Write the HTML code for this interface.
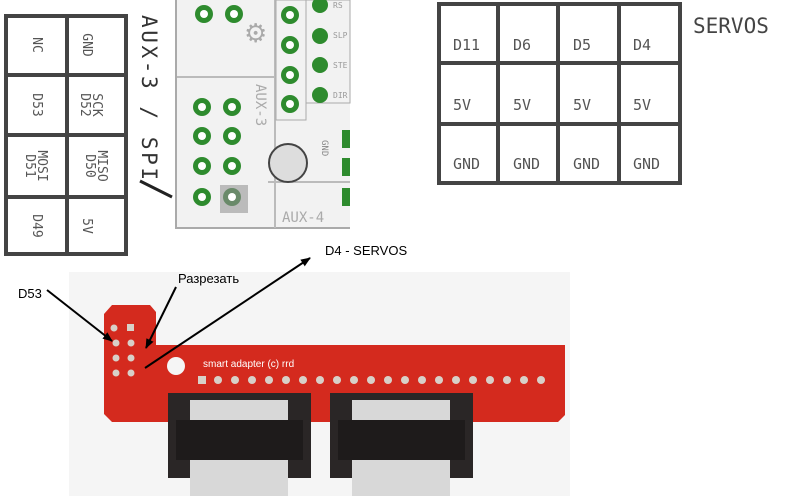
<!DOCTYPE html>
<html><head><meta charset="utf-8"><style>
body{margin:0;background:#fff;width:797px;height:496px;overflow:hidden;font-family:"Liberation Sans","DejaVu Sans",sans-serif}
svg{display:block}
</style></head><body>
<svg width="797" height="496" viewBox="0 0 797 496" xmlns="http://www.w3.org/2000/svg">
<defs>
<marker id="ah" markerWidth="10" markerHeight="8" refX="9" refY="4" orient="auto" markerUnits="userSpaceOnUse"><path d="M0,0 L10,4 L0,8 z" fill="#000"/></marker>
</defs>
<!-- left table -->
<g stroke="#444" stroke-width="4" fill="none">
<rect x="6" y="16" width="120" height="238"/>
<line x1="67" y1="16" x2="67" y2="254"/>
<line x1="6" y1="75" x2="126" y2="75"/>
<line x1="6" y1="135" x2="126" y2="135"/>
<line x1="6" y1="197" x2="126" y2="197"/>
</g>
<g font-family="DejaVu Sans Mono,Liberation Mono,monospace" font-size="13" fill="#555">
<text transform="translate(33,45) rotate(90)" text-anchor="middle">NC</text>
<text transform="translate(83,45) rotate(90)" text-anchor="middle">GND</text>
<text transform="translate(33,105) rotate(90)" text-anchor="middle">D53</text>
<text transform="translate(93,105) rotate(90)" text-anchor="middle">SCK</text>
<text transform="translate(81,105) rotate(90)" text-anchor="middle">D52</text>
<text transform="translate(38,166) rotate(90)" text-anchor="middle">MOSI</text>
<text transform="translate(26,166) rotate(90)" text-anchor="middle">D51</text>
<text transform="translate(98,166) rotate(90)" text-anchor="middle">MISO</text>
<text transform="translate(86,166) rotate(90)" text-anchor="middle">D50</text>
<text transform="translate(33,226) rotate(90)" text-anchor="middle">D49</text>
<text transform="translate(83,226) rotate(90)" text-anchor="middle">5V</text>
<text transform="translate(142,15) rotate(90)" font-size="21" fill="#333" textLength="165">AUX-3 / SPI</text>
</g>
<line x1="140" y1="181" x2="172" y2="197" stroke="#222" stroke-width="3"/>
<!-- pcb silkscreen -->
<g>
<rect x="175" y="0" width="175" height="228" fill="#f2f2f2"/>
<path d="M176,0 V228 H350" stroke="#aaa" stroke-width="2" fill="none"/>
<path d="M177,77 H275 M275,0 V228" stroke="#bbb" stroke-width="2" fill="none"/>
<path d="M268,182 H350" stroke="#bbb" stroke-width="2" fill="none"/>
<rect x="306" y="0" width="44" height="103" fill="none" stroke="#aaa"/>
<rect x="276" y="0" width="30" height="120" fill="none" stroke="#aaa"/>
<circle cx="288" cy="163" r="19" fill="#ddd" stroke="#444" stroke-width="2"/>
<rect x="220" y="185" width="28" height="28" fill="#bbb"/>
<g fill="#2e8b2e">
<circle cx="204" cy="14" r="9"/><circle cx="234" cy="14" r="9"/>
<circle cx="202" cy="107" r="9"/><circle cx="232" cy="107" r="9"/>
<circle cx="202" cy="136" r="9"/><circle cx="232" cy="136" r="9"/>
<circle cx="202" cy="166" r="9"/><circle cx="232" cy="166" r="9"/>
<circle cx="202" cy="197" r="9"/><circle cx="232" cy="197" r="9" fill="#6a8a6a"/>
<circle cx="290" cy="15" r="9"/><circle cx="290" cy="45" r="9"/><circle cx="290" cy="75" r="9"/><circle cx="290" cy="104" r="9"/>
<circle cx="320" cy="5" r="8"/><circle cx="320" cy="36" r="8"/><circle cx="320" cy="65" r="8"/><circle cx="320" cy="95" r="8"/>
<rect x="342" y="130" width="8" height="18"/><rect x="342" y="158" width="8" height="18"/><rect x="342" y="188" width="8" height="18"/>
</g>
<g fill="#fff"><circle cx="204" cy="14" r="4"/><circle cx="234" cy="14" r="4"/><circle cx="202" cy="107" r="4"/><circle cx="232" cy="107" r="4"/><circle cx="202" cy="136" r="4"/><circle cx="232" cy="136" r="4"/><circle cx="202" cy="166" r="4"/><circle cx="232" cy="166" r="4"/><circle cx="202" cy="197" r="4"/><circle cx="232" cy="197" r="4"/><circle cx="290" cy="15" r="4"/><circle cx="290" cy="45" r="4"/><circle cx="290" cy="75" r="4"/><circle cx="290" cy="104" r="4"/></g>
<g font-family="DejaVu Sans Mono,monospace" fill="#999" font-size="8"><text x="333" y="8">RS</text><text x="333" y="38">SLP</text><text x="333" y="68">STE</text><text x="333" y="98">DIR</text></g>
<text transform="translate(256,84) rotate(90)" font-family="DejaVu Sans Mono,monospace" font-size="14" fill="#aaa">AUX-3</text>
<text transform="translate(322,140) rotate(90)" font-family="DejaVu Sans Mono,monospace" font-size="9" fill="#888">GND</text>
<text x="282" y="222" font-family="DejaVu Sans Mono,monospace" font-size="14" fill="#aaa">AUX-4</text>
<text x="244" y="42" font-size="26" fill="#aaa">⚙</text>
</g>
<!-- servos table -->
<g stroke="#444" stroke-width="4" fill="none">
<rect x="439" y="4" width="241" height="179"/>
<line x1="498" y1="4" x2="498" y2="183"/><line x1="558" y1="4" x2="558" y2="183"/><line x1="619" y1="4" x2="619" y2="183"/>
<line x1="439" y1="63" x2="680" y2="63"/><line x1="439" y1="124" x2="680" y2="124"/>
</g>
<g font-family="DejaVu Sans Mono,Liberation Mono,monospace" font-size="15" fill="#555">
<text x="453" y="50">D11</text><text x="513" y="50">D6</text><text x="573" y="50">D5</text><text x="633" y="50">D4</text>
<text x="453" y="110">5V</text><text x="513" y="110">5V</text><text x="573" y="110">5V</text><text x="633" y="110">5V</text>
<text x="453" y="169">GND</text><text x="513" y="169">GND</text><text x="573" y="169">GND</text><text x="633" y="169">GND</text>
<text x="693" y="33" font-size="21" fill="#444">SERVOS</text>
</g>
<!-- photo -->
<rect x="69" y="272" width="501" height="224" fill="#f5f5f5"/>
<path d="M112,305 H150 L156,312 V345 H565 V415 L558,422 H112 L104,414 V314 Z" fill="#d42a1e"/>
<circle cx="176" cy="366" r="9" fill="#f5f5f5"/>
<text x="203" y="367" font-size="10" fill="#fff">smart adapter (c) rrd</text>
<g fill="#d8d0c8">
<circle cx="114" cy="328" r="3.5"/><rect x="127" y="324" width="7" height="7"/>
<circle cx="116" cy="343" r="3.5"/><circle cx="131" cy="343" r="3.5"/>
<circle cx="116" cy="358" r="3.5"/><circle cx="131" cy="358" r="3.5"/>
<circle cx="116" cy="373" r="3.5"/><circle cx="131" cy="373" r="3.5"/>
<rect x="198" y="376" width="8" height="8"/>
<circle cx="218" cy="380" r="4"/><circle cx="235" cy="380" r="4"/><circle cx="252" cy="380" r="4"/><circle cx="269" cy="380" r="4"/><circle cx="286" cy="380" r="4"/><circle cx="303" cy="380" r="4"/><circle cx="320" cy="380" r="4"/><circle cx="337" cy="380" r="4"/><circle cx="354" cy="380" r="4"/><circle cx="371" cy="380" r="4"/><circle cx="388" cy="380" r="4"/><circle cx="405" cy="380" r="4"/><circle cx="422" cy="380" r="4"/><circle cx="439" cy="380" r="4"/><circle cx="456" cy="380" r="4"/><circle cx="473" cy="380" r="4"/><circle cx="490" cy="380" r="4"/><circle cx="507" cy="380" r="4"/><circle cx="524" cy="380" r="4"/><circle cx="541" cy="380" r="4"/>
</g>
<g>
<rect x="168" y="393" width="143" height="85" fill="#2a2626"/>
<rect x="330" y="393" width="143" height="85" fill="#2a2626"/>
<rect x="190" y="400" width="98" height="96" fill="#d8d8d8"/>
<rect x="352" y="400" width="98" height="96" fill="#d8d8d8"/>
<rect x="176" y="420" width="127" height="40" fill="#1e1b1b"/>
<rect x="338" y="420" width="127" height="40" fill="#1e1b1b"/>
</g>
<!-- annotations -->
<g stroke="#000" stroke-width="2" fill="none">
<line x1="47" y1="290" x2="112" y2="341" marker-end="url(#ah)"/>
<line x1="176" y1="287" x2="146" y2="348" marker-end="url(#ah)"/>
<line x1="145" y1="368" x2="310" y2="258" marker-end="url(#ah)"/>
</g>
<g font-family="Liberation Sans,DejaVu Sans,sans-serif" font-size="13" fill="#000">
<text x="18" y="298">D53</text>
<text x="178" y="283">Разрезать</text>
<text x="325" y="255">D4 - SERVOS</text>
</g>
</svg>
</body></html>
